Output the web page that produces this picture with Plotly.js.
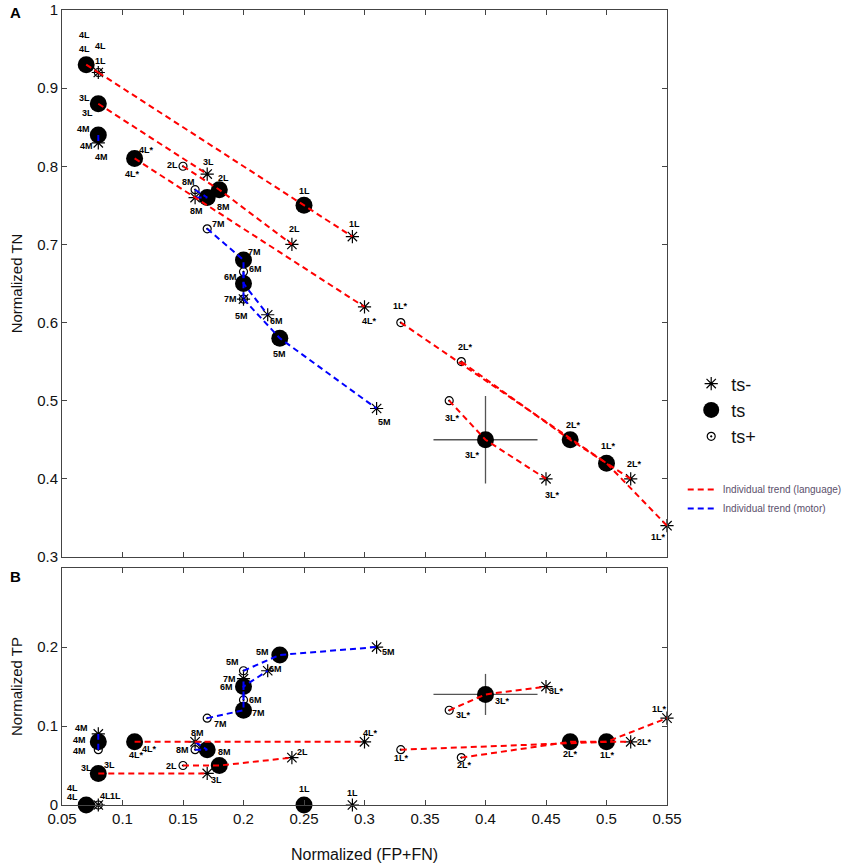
<!DOCTYPE html>
<html>
<head>
<meta charset="utf-8">
<script src="https://cdn.plot.ly/plotly-3.0.1.min.js"></script>
<style>
  html, body { margin: 0; padding: 0; background: #fff; }
  #chart { width: 862px; height: 866px; }
</style>
</head>
<body>
<div id="chart"></div>
<script>
// one entry per subject, order is kept in every array below
const subjects = ['1L', '2L', '3L', '4L', '4M', '5M', '6M', '7M', '8M', '1L*', '2L*', '3L*', '4L*']
const task = ['language', 'language', 'language', 'language', 'motor', 'motor', 'motor', 'motor', 'motor',
  'language', 'language', 'language', 'language']

// x: normalized (FP+FN), same in both panels
const fpfnPlus = [0.08, 0.15, 0.08, 0.07, 0.08, 0.20, 0.20, 0.17, 0.16, 0.33, 0.38, 0.37, 0.11]
const fpfnTs = [0.25, 0.18, 0.08, 0.07, 0.08, 0.23, 0.20, 0.20, 0.17, 0.50, 0.47, 0.40, 0.11]
const fpfnMinus = [0.29, 0.24, 0.17, 0.08, 0.08, 0.31, 0.22, 0.20, 0.16, 0.55, 0.52, 0.45, 0.30]

// panel A: normalized TN
const tnPlus = [0.92, 0.80, 0.88, 0.93, 0.84, 0.63, 0.665, 0.72, 0.77, 0.60, 0.55, 0.50, 0.81]
const tnTs = [0.75, 0.77, 0.88, 0.93, 0.84, 0.58, 0.65, 0.68, 0.76, 0.42, 0.45, 0.45, 0.81]
const tnMinus = [0.71, 0.70, 0.79, 0.92, 0.83, 0.49, 0.61, 0.63, 0.76, 0.34, 0.40, 0.40, 0.62]

// panel B: normalized TP
const tpPlus = [0, 0.05, 0.04, 0, 0.07, 0.17, 0.133, 0.11, 0.07, 0.07, 0.06, 0.12, 0.08]
const tpTs = [0, 0.05, 0.04, 0, 0.08, 0.19, 0.15, 0.12, 0.07, 0.08, 0.08, 0.14, 0.08]
const tpMinus = [0, 0.06, 0.04, 0, 0.09, 0.20, 0.17, 0.16, 0.08, 0.11, 0.08, 0.15, 0.08]

// mean / spread cross drawn on 3L*
const crossTop = [0.40, 0.45]
const crossTopSd = [0.043, 0.056]
const crossBottom = [0.40, 0.14]
const crossBottomSd = [0.043, 0.026]

const xTickVals = [0.05, 0.1, 0.15, 0.2, 0.25, 0.3, 0.35, 0.4, 0.45, 0.5, 0.55]
const xTickText = ['0.05', '0.1', '0.15', '0.2', '0.25', '0.3', '0.35', '0.4', '0.45', '0.5', '0.55']
const yTopTickVals = [0.3, 0.4, 0.5, 0.6, 0.7, 0.8, 0.9, 1]
const yTopTickText = ['0.3', '0.4', '0.5', '0.6', '0.7', '0.8', '0.9', '1']
const yBotTickVals = [0, 0.1, 0.2, 0.3]
const yBotTickText = ['0', '0.1', '0.2', '']

// label placement, pixel shift [dx, dy] from each marker (dy up)
const shiftTopPlus = [[2, 12], [-11, 1], [-14, 6], [-2, 30], [-15, 6], [-2, -17], [12, 3], [11, 5], [-7, 8], [0, 17], [4, 15], [3, -17], [12, 8]]
const shiftTopTs = [[0, 14], [4, 12], [-11, -9], [-2, 16], [-12, -11], [0, -16], [-13, 6], [11, 8], [16, -9], [2, 17], [3, 15], [-13, -15], [-2, -16]]
const shiftTopMinus = [[2, 13], [3, 15], [1, 12], [2, 27], [3, -14], [8, -13], [9, -6], [-13, 0], [1, -13], [-9, -11], [4, 15], [6, -16], [5, -14]]
const shiftBotPlus = [[17, 9], [-12, 0], [-12, 5], [-14, 17], [-19, -1], [-11, 9], [12, 0], [13, -6], [-13, 0], [1, -8], [3, -7], [14, -5], [15, -7]]
const shiftBotTs = [[0, 16], null, [11, 8], [-14, 8], [-19, 2], [-17, 3], [-17, 0], [15, -3], [17, -2], [1, -13], [0, -12], [17, -7], [2, -13]]
const shiftBotMinus = [[0, 12], [11, 6], [9, -7], [7, 9], [-17, 6], [12, -5], [8, 2], [-14, 0], [2, 9], [-8, 9], [14, 0], [10, -4], [6, 9]]

const trendColor = { language: '#ff0000', motor: '#0000ff' }
const trendName = { language: 'Individual trend (language)', motor: 'Individual trend (motor)' }
const axisColor = '#444'
const font = 'Liberation Sans, Arial, sans-serif'

const panels = [
  { xa: 'x', ya: 'y', plus: tnPlus, ts: tnTs, minus: tnMinus, cross: crossTop, sd: crossTopSd,
    shifts: [shiftTopPlus, shiftTopTs, shiftTopMinus], legend: true },
  { xa: 'x2', ya: 'y2', plus: tpPlus, ts: tpTs, minus: tpMinus, cross: crossBottom, sd: crossBottomSd,
    shifts: [shiftBotPlus, shiftBotTs, shiftBotMinus], legend: false },
]

const data = []
const annotations = []

panels.forEach(p => {
  data.push({
    x: [p.cross[0]], y: [p.cross[1]], xaxis: p.xa, yaxis: p.ya,
    mode: 'markers', marker: { size: 1, opacity: 0 },
    error_x: { type: 'constant', value: p.sd[0], width: 0, color: '#555', thickness: 1.3 },
    error_y: { type: 'constant', value: p.sd[1], width: 0, color: '#555', thickness: 1.3 },
    showlegend: false, hoverinfo: 'skip',
  })

  data.push({
    name: 'ts+', x: fpfnPlus, y: p.plus, xaxis: p.xa, yaxis: p.ya, mode: 'markers',
    marker: { symbol: 'circle-open-dot', size: 8, color: '#000', line: { color: '#000', width: 1.2 } },
    cliponaxis: false, showlegend: p.legend, legendrank: 3,
  })
  data.push({
    name: 'ts', x: fpfnTs, y: p.ts, xaxis: p.xa, yaxis: p.ya, mode: 'markers',
    marker: { symbol: 'circle', size: 17, color: '#000' },
    cliponaxis: false, showlegend: p.legend, legendrank: 2,
  })
  data.push({
    name: 'ts-', x: fpfnMinus, y: p.minus, xaxis: p.xa, yaxis: p.ya, mode: 'markers',
    marker: { symbol: 'asterisk-open', size: 11, color: '#000', line: { color: '#000', width: 1.2 } },
    cliponaxis: false, showlegend: p.legend, legendrank: 1,
  })

  const shown = {}
  subjects.forEach((s, i) => {
    const kind = task[i]
    const xs = [fpfnPlus[i], fpfnTs[i], fpfnMinus[i]]
    const ys = [p.plus[i], p.ts[i], p.minus[i]]

    // a trend lying on the zero line sits under the axis, as in the original
    if (ys.some(v => v > 0)) {
      data.push({
        name: trendName[kind], x: xs, y: ys,
        xaxis: p.xa, yaxis: p.ya, mode: 'lines',
        line: { color: trendColor[kind], width: 2, dash: '6px,4px' },
        legend: 'legend2', legendrank: kind === 'language' ? 1 : 2,
        showlegend: p.legend && !shown[kind], hoverinfo: 'skip',
      })
      shown[kind] = true
    }

    for (let k = 0; k < 3; k++) {
      const sh = p.shifts[k][i]
      if (!sh) continue
      annotations.push({
        x: xs[k], y: ys[k], xref: p.xa, yref: p.ya, text: s, showarrow: false,
        xshift: sh[0], yshift: sh[1], xanchor: 'center', yanchor: 'middle',
        font: { family: font, size: 9, color: '#000', weight: 'bold' },
      })
    }
  })
})

annotations.push(
  { text: 'A', xref: 'paper', yref: 'paper', x: -0.077, y: 0.997, showarrow: false,
    xanchor: 'center', yanchor: 'middle', font: { family: font, size: 15, color: '#000', weight: 'bold' } },
  { text: 'B', xref: 'paper', yref: 'paper', x: -0.077, y: 0.288, showarrow: false,
    xanchor: 'center', yanchor: 'middle', font: { family: font, size: 15, color: '#000', weight: 'bold' } },
)

const baseAxis = {
  showline: true, mirror: 'ticks', linecolor: axisColor, linewidth: 1,
  ticks: 'inside', ticklen: 5, tickcolor: axisColor, tickwidth: 1,
  showgrid: false, zeroline: false,
  tickfont: { family: font, size: 15, color: '#111' },
}

const layout = {
  width: 862, height: 866,
  margin: { l: 62, r: 195, t: 10, b: 61 },
  paper_bgcolor: '#fff', plot_bgcolor: '#fff',
  font: { family: font, color: '#111' },
  xaxis: { ...baseAxis, anchor: 'y', range: [0.05, 0.55], tickvals: xTickVals, showticklabels: false },
  yaxis: { ...baseAxis, domain: [0.312, 1], range: [0.3, 1], tickvals: yTopTickVals, ticktext: yTopTickText,
    title: { text: 'Normalized TN', font: { family: font, size: 15, color: '#111' }, standoff: 10 } },
  xaxis2: { ...baseAxis, anchor: 'y2', range: [0.05, 0.55], tickvals: xTickVals, ticktext: xTickText,
    title: { text: 'Normalized (FP+FN)', font: { family: font, size: 16, color: '#111' }, standoff: 22 } },
  yaxis2: { ...baseAxis, domain: [0, 0.298], range: [0, 0.3], tickvals: yBotTickVals, ticktext: yBotTickText,
    title: { text: 'Normalized TP', font: { family: font, size: 15, color: '#111' }, standoff: 10 } },
  legend: {
    x: 1.04, y: 0.553, xanchor: 'left', yanchor: 'top',
    font: { family: font, size: 18, color: '#111' }, bgcolor: 'rgba(0,0,0,0)',
    tracegroupgap: 6, itemclick: false,
  },
  legend2: {
    x: 1.026, y: 0.415, xanchor: 'left', yanchor: 'top',
    font: { family: font, size: 10, color: '#5b4f6b' }, bgcolor: 'rgba(0,0,0,0)',
  },
  annotations,
}

Plotly.newPlot('chart', data, layout, { displayModeBar: false, staticPlot: true })
</script>
</body>
</html>
